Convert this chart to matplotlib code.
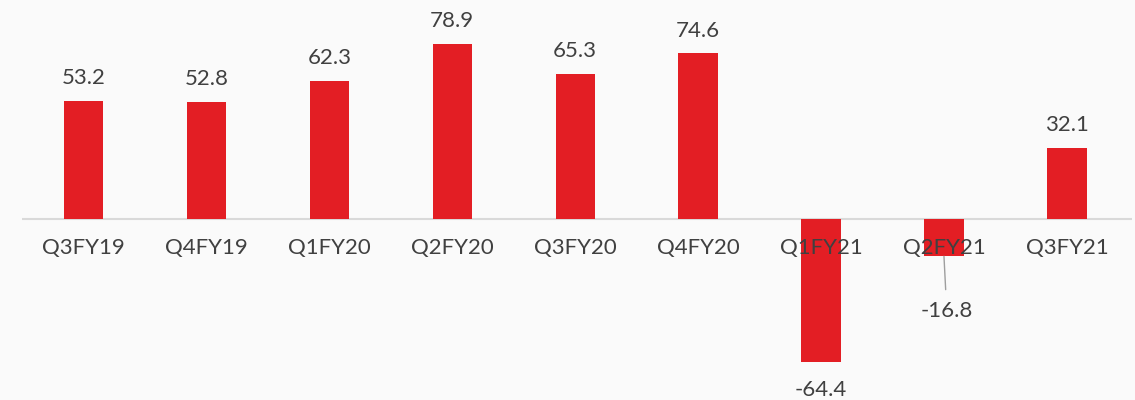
import matplotlib.pyplot as plt

quarters = ["Q3FY19", "Q4FY19", "Q1FY20", "Q2FY20", "Q3FY20",
            "Q4FY20", "Q1FY21", "Q2FY21", "Q3FY21"]
values = [53.2, 52.8, 62.3, 78.9, 65.3, 74.6, -64.4, -16.8, 32.1]
value_labels = ["53.2", "52.8", "62.3", "78.9", "65.3", "74.6", "-64.4", "-16.8", "32.1"]

BAR_COLOR = "#E31E24"
TEXT_COLOR = "#404040"
BG = "#FAFAFA"

plt.rcParams["font.family"] = ["Lato", "DejaVu Sans"]

fig = plt.figure(figsize=(11.35, 4.0), dpi=100, facecolor=BG)
ax = fig.add_axes([0.0194, 0.0, 0.978, 1.0])
ax.set_facecolor(BG)

x = list(range(len(quarters)))
ax.bar(x, values, width=0.32, color=BAR_COLOR, zorder=2)
ax.axhline(0, color="#D9D9D9", lw=1.5, zorder=1)

ax.set_xlim(-0.5, 8.53)
ax.set_ylim(-81.5, 98.6)
ax.axis("off")

# category labels just under the zero line
for xi, q in zip(x, quarters):
    ax.annotate(q, (xi, 0), xytext=(0, -14), textcoords="offset points",
                ha="center", va="top", fontsize=16, color=TEXT_COLOR, zorder=3)

# value labels
for xi, v, lab in zip(x, values, value_labels):
    if v >= 0:
        ax.annotate(lab, (xi, v), xytext=(0, 12), textcoords="offset points",
                    ha="center", va="baseline", fontsize=16, color=TEXT_COLOR)
    elif lab == "-16.8":
        ax.annotate(lab, (xi, v), xytext=(2, -32), textcoords="offset points",
                    ha="center", va="top", fontsize=16, color=TEXT_COLOR,
                    arrowprops=dict(arrowstyle="-", color="#9E9E9E", lw=1,
                                    shrinkA=6, shrinkB=0))
    else:
        ax.annotate(lab, (xi, v), xytext=(0, -13), textcoords="offset points",
                    ha="center", va="top", fontsize=16, color=TEXT_COLOR)

fig.savefig("out.png", dpi=100, facecolor=BG)
